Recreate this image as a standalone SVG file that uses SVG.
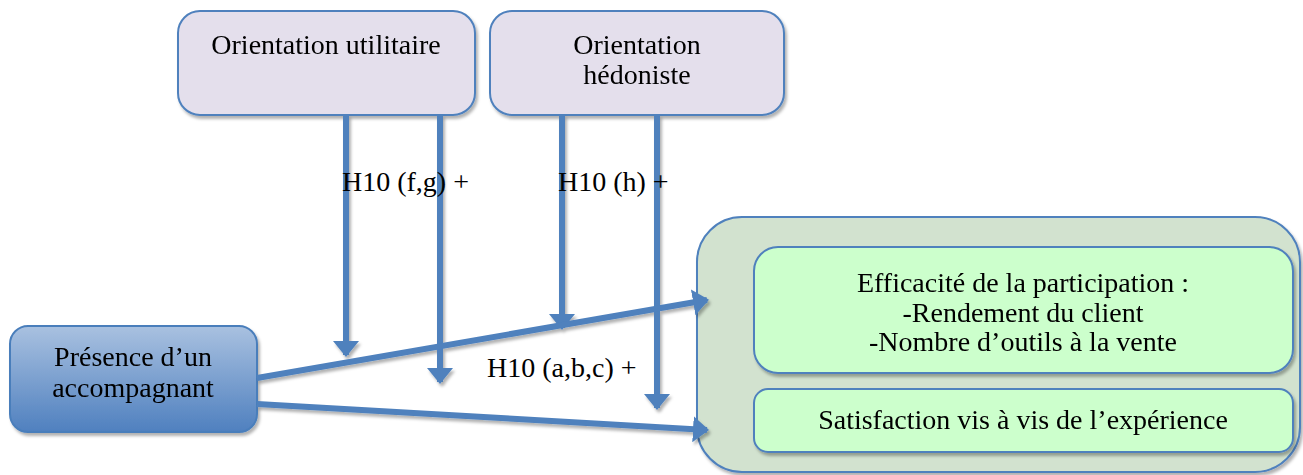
<svg xmlns="http://www.w3.org/2000/svg" width="1303" height="475" viewBox="0 0 1303 475">
<style>
text{font-family:"Liberation Serif","Times New Roman",serif;font-size:28px;fill:#000;text-anchor:middle}
.top{fill:#e4dfec;stroke:#4f81bd;stroke-width:2}
.inner{fill:#ccffcc;stroke:#4f81bd;stroke-width:2}
.cont{fill:#d2e2cf;stroke:#4f81bd;stroke-width:2}
.pres{fill:url(#gb);stroke:#4a7ebb;stroke-width:2}
.ar{stroke:#4f81bd;stroke-width:6;fill:none;marker-end:url(#ah)}
.lbl{text-anchor:start}
</style>
<defs>
<linearGradient id="gb" x1="0" y1="0" x2="0" y2="1">
<stop offset="0" stop-color="#a9c1e0"/>
<stop offset="1" stop-color="#4f80bf"/>
</linearGradient>
<filter id="sh" x="-10%" y="-10%" width="130%" height="130%">
<feDropShadow dx="2" dy="3" stdDeviation="1.5" flood-color="#000" flood-opacity="0.3"/>
</filter>
<marker id="ah" viewBox="0 0 16 26" refX="14" refY="13" markerWidth="16" markerHeight="26" markerUnits="userSpaceOnUse" orient="auto">
<path d="M0,0 L16,13 L0,26 z" fill="#4f81bd"/>
</marker>
</defs>
<g id="node-utilitaire" filter="url(#sh)">
<rect class="top" x="178" y="11" width="297" height="104" rx="22"/>
<text x="326" y="54">Orientation utilitaire</text>
</g>
<g id="node-hedoniste" filter="url(#sh)">
<rect class="top" x="490" y="11" width="294" height="104" rx="22"/>
<text x="637" y="54">Orientation</text>
<text x="637" y="84">hédoniste</text>
</g>
<g id="node-resultats">
<rect class="cont" x="697" y="217" width="603" height="255" rx="45" filter="url(#sh)"/>
<g id="node-efficacite" filter="url(#sh)">
<rect class="inner" x="754" y="247" width="539" height="126" rx="24"/>
<text x="1023" y="292">Efficacité de la participation :</text>
<text x="1023" y="322">-Rendement du client</text>
<text x="1023" y="351">-Nombre d’outils à la vente</text>
</g>
<g id="node-satisfaction" filter="url(#sh)">
<rect class="inner" x="754" y="389" width="539" height="63" rx="14"/>
<text x="1023" y="429">Satisfaction vis à vis de l’expérience</text>
</g>
</g>
<g id="node-presence" filter="url(#sh)">
<rect class="pres" x="10" y="326" width="247" height="106" rx="18"/>
<text x="133" y="366">Présence d’un</text>
<text x="133" y="397">accompagnant</text>
</g>
<g id="connectors" filter="url(#sh)">
<line class="ar" x1="346" y1="115" x2="346" y2="355"/>
<line class="ar" x1="440" y1="115" x2="440" y2="382"/>
<line class="ar" x1="562" y1="115" x2="562" y2="328"/>
<line class="ar" x1="657" y1="115" x2="657" y2="408"/>
<line class="ar" x1="257" y1="378" x2="707" y2="300"/>
<line class="ar" x1="257" y1="404" x2="707" y2="430"/>
</g>
<g id="labels">
<text class="lbl" x="342" y="191">H10 (f,g) +</text>
<text class="lbl" x="558" y="191">H10 (h) +</text>
<text class="lbl" x="487" y="377">H10 (a,b,c) +</text>
</g>
</svg>
